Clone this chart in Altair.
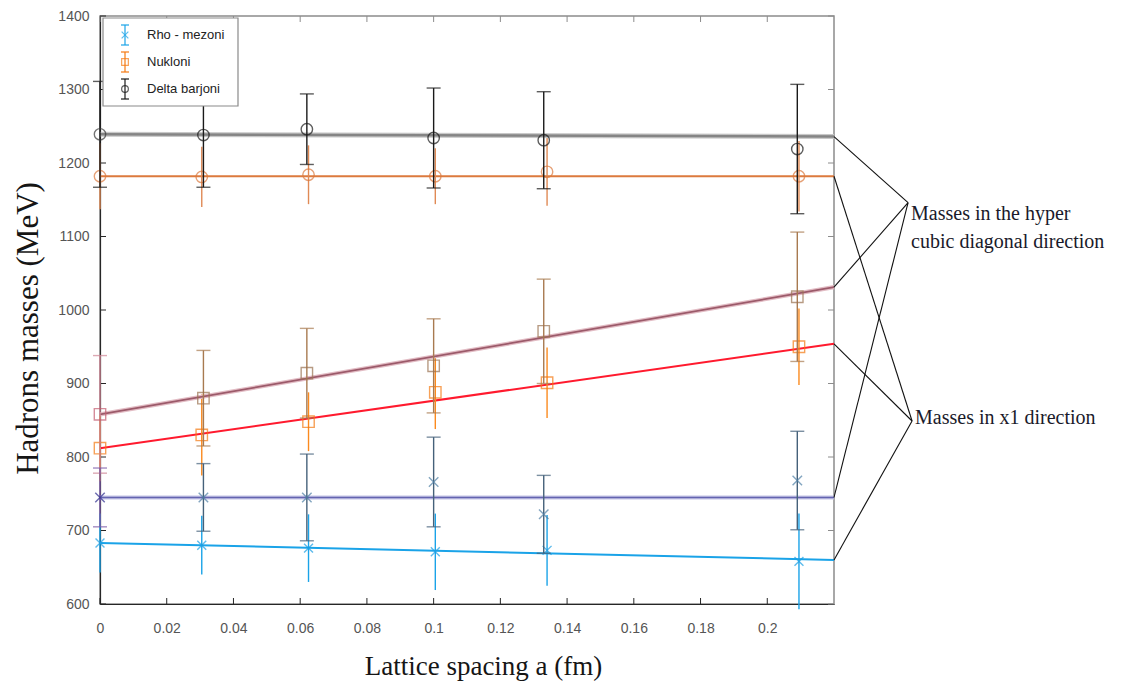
import altair as alt
import pandas as pd

# Plot area size in pixels
W, H = 734, 588

# Axis ticks
x_ticks = [0, 0.02, 0.04, 0.06, 0.08, 0.1, 0.12, 0.14, 0.16, 0.18, 0.2]
y_ticks = [600, 700, 800, 900, 1000, 1100, 1200, 1300, 1400]

# Lattice spacings (fm); a = 0 is the continuum extrapolation
a_diag = [0.0, 0.031, 0.062, 0.1, 0.133, 0.209]
a_x1 = [0.0, 0.0305, 0.0625, 0.1005, 0.134, 0.2095]

# Masses (MeV) in the hyper cubic diagonal direction
delta_diag = [1239, 1238, 1246, 1234, 1231, 1219]
delta_diag_err = [72, 71, 48, 68, 66, 88]
nucl_diag = [858, 880, 914, 924, 971, 1018]
nucl_diag_err = [80, 65, 61, 64, 71, 88]
rho_diag = [745, 745, 745, 766, 722, 768]
rho_diag_err = [40, 46, 59, 61, 53, 67]

# Masses (MeV) in the x1 direction
delta_x1 = [1182, 1181, 1184, 1182, 1188, 1182]
delta_x1_err = [45, 41, 40, 38, 46, 48]
nucl_x1 = [812, 830, 848, 888, 901, 950]
nucl_x1_err = [45, 55, 40, 50, 48, 52]
rho_x1 = [683, 680, 676, 671, 673, 658]
rho_x1_err = [40, 40, 46, 52, 48, 65]

# Straight-line fits, given at both ends of the a range
fit_a = [0.0, 0.22]
fit_delta_diag = [1239, 1236]
fit_nucl_diag = [858, 1031]
fit_rho_diag = [745, 745]
fit_delta_x1 = [1182, 1182]
fit_nucl_x1 = [812, 954]
fit_rho_x1 = [683, 660]

# Annotation texts and the point (a, mass) their leader lines meet at
note_diag = ["Masses in the hyper", "cubic diagonal direction"]
note_diag_at = (0.2422, 1146)
note_x1 = "Masses in x1 direction"
note_x1_at = (0.2434, 849)

legend_labels = ["Rho - mezoni", "Nukloni", "Delta barjoni"]

X_PATH = "M-1,-1L1,1M-1,1L1,-1"
SERIF = "Liberation Serif"
SANS = "Liberation Sans"

X_SCALE = alt.Scale(domain=[0, 0.22], nice=False, zero=False)
Y_SCALE = alt.Scale(domain=[600, 1400], nice=False, zero=False)

X_AXIS = alt.Axis(
    values=x_ticks, format="~g", title="Lattice spacing a (fm)",
    ticks=False, grid=False, domainColor="#262626", domainWidth=1.2,
    labelFont=SANS, labelFontSize=14, labelColor="#555555", labelPadding=17,
    labelFlush=False,
    titleFont=SERIF, titleFontSize=27, titleFontWeight="normal", titleColor="#151515",
    titleX=383, titleY=70, titleAlign="center", titleBaseline="alphabetic",
)
Y_AXIS = alt.Axis(
    values=y_ticks, format="d", title="Hadrons masses (MeV)",
    ticks=False, grid=False, domainColor="#262626", domainWidth=1.2,
    labelFont=SANS, labelFontSize=14, labelColor="#555555", labelPadding=11,
    labelFlush=False,
    titleFont=SERIF, titleFontSize=31, titleFontWeight="normal", titleColor="#151515",
    titleAngle=270, titleX=-72, titleY=312, titleAlign="center", titleBaseline="middle",
)


def xq(field):
    return alt.X(field, type="quantitative", scale=X_SCALE, axis=X_AXIS)


def yq(field):
    return alt.Y(field, type="quantitative", scale=Y_SCALE, axis=Y_AXIS)


# Frame ticks pointing into the plot on all four sides
xt = pd.DataFrame({"t": x_ticks})
yt = pd.DataFrame({"t": y_ticks})
frame = [
    alt.Chart(xt).mark_rule(color="#262626", strokeWidth=1).encode(
        x=xq("t"), y=alt.value(H), y2=alt.value(H - 6)),
    alt.Chart(xt).mark_rule(color="#8c8c8c", strokeWidth=1).encode(
        x=xq("t"), y=alt.value(0), y2=alt.value(6)),
    alt.Chart(yt).mark_rule(color="#262626", strokeWidth=1).encode(
        y=yq("t"), x=alt.value(0), x2=alt.value(6)),
    alt.Chart(yt).mark_rule(color="#8c8c8c", strokeWidth=1).encode(
        y=yq("t"), x=alt.value(W - 6), x2=alt.value(W)),
]


def series(a, m, err, color, bar_color, shape, size, zero_color, zero_bar,
           caps, fit_vals, fit_color, fit_width, halo=None):
    df = pd.DataFrame({"a": a, "m": m, "err": err})
    df["lo"] = df["m"] - df["err"]
    df["hi"] = df["m"] + df["err"]
    df["mc"] = [zero_color if v == 0 else color for v in a]
    df["bc"] = [zero_bar if v == 0 else bar_color for v in a]
    fit = pd.DataFrame({"a": fit_a, "m": fit_vals})

    base = alt.Chart(df)
    out = []
    if halo:
        out.append(alt.Chart(fit).mark_line(color=halo, strokeWidth=fit_width + 2.5)
                   .encode(x=xq("a"), y=yq("m")))
    out.append(alt.Chart(fit).mark_line(color=fit_color, strokeWidth=fit_width)
               .encode(x=xq("a"), y=yq("m")))
    out.append(base.mark_rule(strokeWidth=1.4).encode(
        x=xq("a"), y=yq("lo"), y2=alt.Y2("hi"),
        color=alt.Color("bc:N", scale=None)))
    if caps:
        for end in ("lo", "hi"):
            out.append(base.mark_tick(orient="horizontal", size=14, thickness=1.4).encode(
                x=xq("a"), y=yq(end), color=alt.Color("bc:N", scale=None)))
    out.append(base.mark_point(shape=shape, size=size, filled=False, strokeWidth=1.4).encode(
        x=xq("a"), y=yq("m"), color=alt.Color("mc:N", scale=None)))
    return out


layers = []
# x1 direction
layers += series(a_x1, delta_x1, delta_x1_err, "#dc7a3e", "#e08a55", "circle", 130,
                 "#dc7a3e", "#e08a55", False, fit_delta_x1, "#dc7a3e", 2)
layers += series(a_x1, nucl_x1, nucl_x1_err, "#f57a12", "#fb8a1e", "square", 130,
                 "#f57a12", "#fb8a1e", False, fit_nucl_x1, "#ff1a2e", 2)
layers += series(a_x1, rho_x1, rho_x1_err, "#1a9fe4", "#1aa3e8", X_PATH, 80,
                 "#1a9fe4", "#1aa3e8", False, fit_rho_x1, "#1aa3e8", 2)
# hyper cubic diagonal direction
layers += series(a_diag, delta_diag, delta_diag_err, "#1a1a1a", "#1a1a1a", "circle", 130,
                 "#3a3a3a", "#1a1a1a", True, fit_delta_diag, "#858585", 2.5,
                 halo="#c8c8c8")
layers += series(a_diag, nucl_diag, nucl_diag_err, "#9a7250", "#a87a50", "square", 130,
                 "#c45c70", "#cf8594", True, fit_nucl_diag, "#9c5a6a", 1.8,
                 halo="#e2bcc4")
layers += series(a_diag, rho_diag, rho_diag_err, "#4f80a6", "#45617a", X_PATH, 90,
                 "#2e2e90", "#7a5aa8", True, fit_rho_diag, "#6464b0", 1.6,
                 halo="#c4c4e6")

# Leader lines from the fit ends to the annotations
ends_diag = [fit_delta_diag[1], fit_nucl_diag[1], fit_rho_diag[1]]
ends_x1 = [fit_delta_x1[1], fit_nucl_x1[1], fit_rho_x1[1]]
leaders = pd.DataFrame({
    "a0": [fit_a[1]] * 6,
    "m0": ends_diag + ends_x1,
    "a1": [note_diag_at[0]] * 3 + [note_x1_at[0]] * 3,
    "m1": [note_diag_at[1]] * 3 + [note_x1_at[1]] * 3,
})
layers.append(alt.Chart(leaders).mark_rule(color="#111111", strokeWidth=1.1).encode(
    x=xq("a0"), y=yq("m0"), x2=alt.X2("a1"), y2=alt.Y2("m1")))

notes = pd.DataFrame({
    "a": [note_diag_at[0], note_x1_at[0]],
    "m": [note_diag_at[1], note_x1_at[1]],
    "txt": [note_diag, [note_x1]],
})
layers.append(alt.Chart(notes.iloc[[0]]).mark_text(
    align="left", baseline="alphabetic", font=SERIF, fontSize=20, color="#1a1a2a",
    dx=3, dy=17, lineHeight=28).encode(x=xq("a"), y=yq("m"), text="txt"))
layers.append(alt.Chart(notes.iloc[[1]]).mark_text(
    align="left", baseline="alphabetic", font=SERIF, fontSize=20, color="#1a1a2a",
    dx=3, dy=3).encode(x=xq("a"), y=yq("m"), text="txt"))

# Legend box in the upper left corner
one = pd.DataFrame({"k": [0]})
layers.append(alt.Chart(one).mark_rect(fill="white", stroke="#8a8a8a", strokeWidth=1.2).encode(
    x=alt.value(3), x2=alt.value(138), y=alt.value(2), y2=alt.value(90)))
legend_style = [("#1aa3e8", X_PATH), ("#f57a12", "square"), ("#1a1a1a", "circle")]
for i, (label, (col, shp)) in enumerate(zip(legend_labels, legend_style)):
    yc = 19 + 27 * i
    layers.append(alt.Chart(one).mark_rule(color=col, strokeWidth=1.2).encode(
        x=alt.value(25), y=alt.value(yc - 10), y2=alt.value(yc + 10)))
    for yy in (yc - 10, yc + 10):
        layers.append(alt.Chart(one).mark_rule(color=col, strokeWidth=1.2).encode(
            x=alt.value(21), x2=alt.value(29), y=alt.value(yy)))
    layers.append(alt.Chart(one).mark_point(shape=shp, size=45, filled=False,
                                            color=col, strokeWidth=1.2).encode(
        x=alt.value(25), y=alt.value(yc)))
    layers.append(alt.Chart(one).mark_text(
        text=label, align="left", baseline="middle", font=SANS, fontSize=13,
        color="#222222").encode(x=alt.value(47), y=alt.value(yc)))

chart = alt.layer(*frame, *layers).properties(
    width=W, height=H,
    autosize=alt.AutoSizeParams(type="none"),
    padding={"left": 100, "top": 16, "right": 288, "bottom": 77},
    background="white",
).configure_view(stroke="#8c8c8c", strokeWidth=1.5)

chart.save("out.html", embed_options={"renderer": "svg", "actions": False})
